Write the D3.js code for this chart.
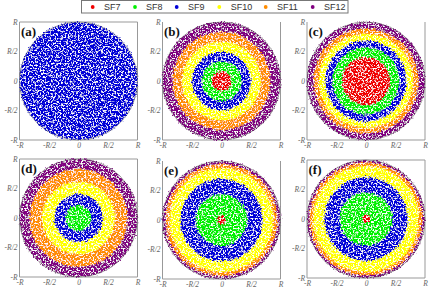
<!DOCTYPE html>
<html><head><meta charset="utf-8">
<script src="https://cdnjs.cloudflare.com/ajax/libs/d3/7.9.0/d3.min.js"></script>
<style>html,body{margin:0;padding:0;background:#fff}svg{display:block}</style>
</head><body><svg id="c" width="429" height="290"></svg>
<script>
// The reference holds thousands of individual dots that cannot be read one by one.
// Only the band boundaries are read from the picture; the dots are NOT reproduced.
// Bands are drawn as annuli, with a white mottling filter as a visual texture only.
const legendNames = ["SF7","SF8","SF9","SF10","SF11","SF12"];
const legendColors = ["#f00000","#00f000","#0000d8","#ffff00","#ff8c00","#800080"];
const tickLabels = ["-R","-R/2","0","R/2","R"];
const tickValues = [-1,-0.5,0,0.5,1];
const panelNames = ["(a)","(b)","(c)","(d)","(e)","(f)"];
// outer radius of each spreading-factor band, as a fraction of R
const bandsA = [0,0,1,1,1,1];
const bandsB = [0.17,0.34,0.50,0.67,0.83,1];
const bandsC = [0.41,0.57,0.69,0.80,0.89,1];
const bandsD = [0,0.22,0.41,0.62,0.83,1];
const bandsE = [0.07,0.44,0.70,0.88,0.95,1];
const bandsF = [0.07,0.45,0.71,0.90,0.96,1];
const allBands = [bandsA,bandsB,bandsC,bandsD,bandsE,bandsF];
const centerX = [78.5,221.5,366,78.5,221.5,366];
const centerY = [81,81,81,218,220,219];
const hasTopLine = [true,false,false,true,false,true];
const legendDotX = [92.7,135,176.7,219.3,265.7,312.7];
const legendTextX = [104,146,188,230.7,277,324];

const svg = d3.select("#c");
const defs = svg.append("defs");
const f = defs.append("filter").attr("id","speck").attr("filterUnits","userSpaceOnUse")
  .attr("x",0).attr("y",0).attr("width",429).attr("height",290);
f.append("feTurbulence").attr("type","fractalNoise").attr("baseFrequency",0.6).attr("numOctaves",2).attr("seed",7).attr("result","n");
f.append("feDisplacementMap").attr("in","SourceGraphic").attr("in2","n").attr("scale",5)
  .attr("xChannelSelector","G").attr("yChannelSelector","B").attr("result","d");
f.append("feColorMatrix").attr("in","n").attr("type","matrix")
 .attr("values","0 0 0 0 1  0 0 0 0 1  0 0 0 0 1  6 0 0 0 -3.05").attr("result","w");
f.append("feComposite").attr("in","w").attr("in2","d").attr("operator","in").attr("result","c");
f.append("feMerge").selectAll("feMergeNode").data(["d","c"]).join("feMergeNode").attr("in",d=>d);

allBands.forEach((bands,p)=>{
  const R = 59;
  const cx = centerX[p], cy = centerY[p];
  const x = d3.scaleLinear().domain([-1,1]).range([cx-R,cx+R]);
  const y = d3.scaleLinear().domain([-1,1]).range([cy+R,cy-R]);
  const g = svg.append("g");
  // frame: bottom, left, right always; top only on panels where it shows
  const frame = [[x(-1),y(-1),x(1),y(-1)],[x(-1),y(-1),x(-1),y(1)],[x(1),y(-1),x(1),y(1)]];
  if (hasTopLine[p]) frame.push([x(-1),y(1),x(1),y(1)]);
  g.selectAll("line.frame").data(frame).join("line").attr("class","frame")
    .attr("x1",d=>d[0]).attr("y1",d=>d[1]).attr("x2",d=>d[2]).attr("y2",d=>d[3])
    .attr("stroke","#999").attr("stroke-width",1);
  const axB = g.append("g").attr("transform",`translate(0,${y(-1)})`)
    .call(d3.axisBottom(x).tickValues(tickValues).tickFormat((d,i)=>tickLabels[i]).tickSize(0).tickPadding(3));
  const axL = g.append("g").attr("transform",`translate(${x(-1)},0)`)
    .call(d3.axisLeft(y).tickValues(tickValues).tickFormat((d,i)=>tickLabels[i]).tickSize(0).tickPadding(2));
  [axB,axL].forEach(a=>{
    a.select(".domain").remove();
    a.selectAll("text").attr("font-family","'Liberation Serif',serif").attr("font-style","italic").attr("font-size",7.5).attr("fill","#666");
  });
  // bands, innermost first
  const arc = d3.arc().startAngle(0).endAngle(2*Math.PI);
  const disc = g.append("g").attr("filter","url(#speck)").append("g").attr("transform",`translate(${cx},${cy})`);
  disc.selectAll("path").data(bands.map((b,i)=>({inner:i?bands[i-1]:0,outer:b,i})).filter(d=>d.outer>d.inner))
    .join("path")
    .attr("d",d=>arc({innerRadius:(x(d.inner)-x(0)),outerRadius:(x(d.outer)-x(0))}))
    .attr("fill",d=>legendColors[d.i]);
  g.append("circle").attr("cx",cx).attr("cy",cy).attr("r",R).attr("fill","none").attr("stroke","#555").attr("stroke-width",0.5);
  g.append("text").attr("x",x(-1)+1.5).attr("y",y(1)+14).text(panelNames[p])
    .attr("font-family","'Liberation Serif',serif").attr("font-weight","bold").attr("font-size",13).attr("fill","#111");
});

// legend
const lg = svg.append("g");
lg.append("rect").attr("x",81.5).attr("y",0.5).attr("width",266.5).attr("height",12.5).attr("fill","#fff").attr("stroke","#777").attr("stroke-width",1);
legendNames.forEach((n,i)=>{
  lg.append("circle").attr("cx",legendDotX[i]).attr("cy",7).attr("r",1.9).attr("fill",legendColors[i]);
  lg.append("text").attr("x",legendTextX[i]).attr("y",10.3).text(n).attr("font-family","'Liberation Sans',sans-serif").attr("font-size",9).attr("fill","#333");
});
</script></body></html>
